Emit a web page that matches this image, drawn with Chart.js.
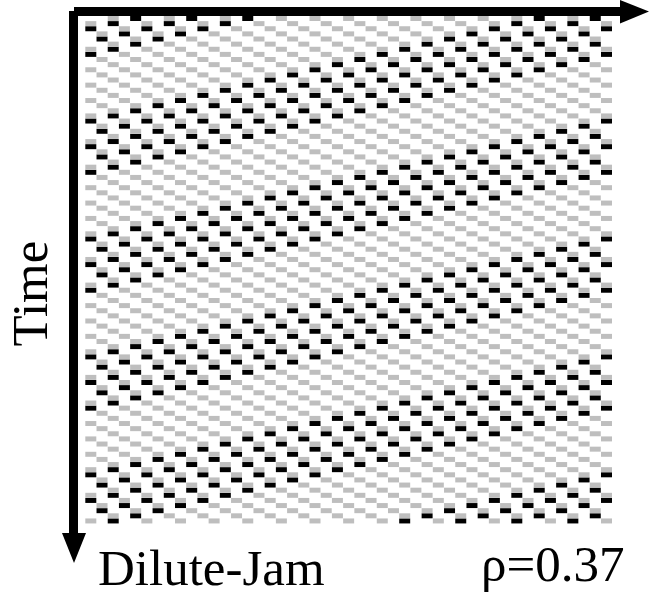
<!DOCTYPE html>
<html>
<head>
<meta charset="utf-8">
<style>html,body{margin:0;padding:0;background:#fff}canvas{display:block}#w{width:665px;height:598px}</style>
<script src="https://cdn.jsdelivr.net/npm/chart.js@4"></script>
</head>
<body>
<div id="w"><canvas id="c" width="665" height="598"></canvas></div>
<script>
const xLabel = "Dilute-Jam";
const yLabel = "Time";
const densityLabel = "ρ=0.37";
// Cell columns per time row (column 0 also shows at the ring's repeated column 46)
const repeatedColumn = 46;
const rowGray = [
[2,7,12,17,20,23,26,29,32,35,38,43],
[0,5,10,15,18,21,24,27,30,33,36,41],
[3,8,13,16,19,22,25,28,31,34,39,44],
[1,6,11,14,17,20,23,26,29,32,37,42],
[4,9,12,15,18,21,24,27,30,35,40,45],
[2,7,10,13,16,19,22,25,28,33,38,43],
[0,5,8,11,14,17,20,23,26,31,36,41],
[3,6,9,12,15,18,21,24,29,34,39,44],
[1,4,7,10,13,16,19,22,27,32,37,42],
[2,5,8,11,14,17,20,25,30,35,40,45],
[0,3,6,9,12,15,18,23,28,33,38,43],
[1,4,7,10,13,16,21,26,31,36,41,44],
[2,5,8,11,14,19,24,29,34,39,42,45],
[0,3,6,9,12,17,22,27,32,37,40,43],
[1,4,7,10,15,20,25,30,35,38,41,44],
[2,5,8,13,18,23,28,33,36,39,42,45],
[0,3,6,11,16,21,26,31,34,37,40,43],
[14,19,24,29,32,35,38,41,44,1,4,9],
[12,17,22,27,30,33,36,39,42,45,2,7],
[15,20,25,28,31,34,37,40,43,0,5,10],
[13,18,23,26,29,32,35,38,41,44,3,8],
[16,21,24,27,30,33,36,39,42,1,6,11],
[14,19,22,25,28,31,34,37,40,45,4,9],
[12,17,20,23,26,29,32,35,38,43,2,7],
[15,18,21,24,27,30,33,36,41,0,5,10],
[13,16,19,22,25,28,31,34,39,44,3,8],
[14,17,20,23,26,29,32,37,42,1,6,11],
[12,15,18,21,24,27,30,35,40,45,4,9],
[13,16,19,22,25,28,33,38,43,2,7,10],
[14,17,20,23,26,31,36,41,0,5,8,11],
[12,15,18,21,24,29,34,39,44,3,6,9],
[13,16,19,22,27,32,37,42,1,4,7,10],
[14,17,20,25,30,35,40,45,2,5,8,11],
[12,15,18,23,28,33,38,43,0,3,6,9],
[26,31,36,41,44,1,4,7,10,13,16,21],
[24,29,34,39,42,45,2,5,8,11,14,19],
[27,32,37,40,43,0,3,6,9,12,17,22],
[25,30,35,38,41,44,1,4,7,10,15,20],
[28,33,36,39,42,45,2,5,8,13,18,23],
[26,31,34,37,40,43,0,3,6,11,16,21],
[24,29,32,35,38,41,44,1,4,9,14,19],
[27,30,33,36,39,42,45,2,7,12,17,22],
[25,28,31,34,37,40,43,0,5,10,15,20],
[26,29,32,35,38,41,44,3,8,13,18,23],
[24,27,30,33,36,39,42,1,6,11,16,21],
[25,28,31,34,37,40,45,4,9,14,19,22],
[26,29,32,35,38,43,2,7,12,17,20,23],
[24,27,30,33,36,41,0,5,10,15,18,21],
[25,28,31,34,39,44,3,8,13,16,19,22],
[26,29,32,37,42,1,6,11,14,17,20,23],
[24,27,30,35,40,45,4,9,12,15,18,21],
[38,43,2,7,10,13,16,19,22,25,28,33],
[36,41,0,5,8,11,14,17,20,23,26,31],
[39,44,3,6,9,12,15,18,21,24,29,34],
[37,42,1,4,7,10,13,16,19,22,27,32],
[40,45,2,5,8,11,14,17,20,25,30,35],
[38,43,0,3,6,9,12,15,18,23,28,33],
[36,41,44,1,4,7,10,13,16,21,26,31],
[39,42,45,2,5,8,11,14,19,24,29,34],
[37,40,43,0,3,6,9,12,17,22,27,32],
[38,41,44,1,4,7,10,15,20,25,30,35],
[36,39,42,45,2,5,8,13,18,23,28,33],
[37,40,43,0,3,6,11,16,21,26,31,34],
[38,41,44,1,4,9,14,19,24,29,32,35],
[36,39,42,45,2,7,12,17,22,27,30,33],
[37,40,43,0,5,10,15,20,25,28,31,34],
[38,41,44,3,8,13,18,23,26,29,32,35],
[36,39,42,1,6,11,16,21,24,27,30,33],
[4,9,14,19,22,25,28,31,34,37,40,45],
[2,7,12,17,20,23,26,29,32,35,38,43],
[0,5,10,15,18,21,24,27,30,33,36,41],
[3,8,13,16,19,22,25,28,31,34,39,44],
[1,6,11,14,17,20,23,26,29,32,37,42],
[4,9,12,15,18,21,24,27,30,35,40,45],
[2,7,10,13,16,19,22,25,28,33,38,43],
[0,5,8,11,14,17,20,23,26,31,36,41],
[3,6,9,12,15,18,21,24,29,34,39,44],
[1,4,7,10,13,16,19,22,27,32,37,42],
[2,5,8,11,14,17,20,25,30,35,40,45],
[0,3,6,9,12,15,18,23,28,33,38,43],
[1,4,7,10,13,16,21,26,31,36,41,44],
[2,5,8,11,14,19,24,29,34,39,42,45],
[0,3,6,9,12,17,22,27,32,37,40,43],
[1,4,7,10,15,20,25,30,35,38,41,44],
[2,5,8,13,18,23,28,33,36,39,42,45],
[0,3,6,11,16,21,26,31,34,37,40,43],
[14,19,24,29,32,35,38,41,44,1,4,9],
[12,17,22,27,30,33,36,39,42,45,2,7],
[15,20,25,28,31,34,37,40,43,0,5,10],
[13,18,23,26,29,32,35,38,41,44,3,8],
[16,21,24,27,30,33,36,39,42,1,6,11],
[14,19,22,25,28,31,34,37,40,45,4,9],
[12,17,20,23,26,29,32,35,38,43,2,7],
[15,18,21,24,27,30,33,36,41,0,5,10],
[13,16,19,22,25,28,31,34,39,44,3,8],
[14,17,20,23,26,29,32,37,42,1,6,11],
[12,15,18,21,24,27,30,35,40,45,4,9],
[13,16,19,22,25,28,33,38,43,2,7,10],
[14,17,20,23,26,31,36,41,0,5,8,11]
];
const rowBlack = [
[4,9,14,40,45],
[2,7,12,38,43],
[0,5,10,36,41],
[3,8,34,39,44],
[1,6,32,37,42],
[4,30,35,40,45],
[2,28,33,38,43],
[0,26,31,36,41],
[24,29,34,39,44],
[22,27,32,37,42],
[20,25,30,35,40],
[18,23,28,33,38],
[16,21,26,31,36],
[14,19,24,29,34],
[12,17,22,27,32],
[10,15,20,25,30],
[8,13,18,23,28],
[16,21,26,6,11],
[14,19,24,4,9],
[12,17,22,2,7],
[15,20,0,5,10],
[13,18,44,3,8],
[16,42,1,6,11],
[14,40,45,4,9],
[12,38,43,2,7],
[36,41,0,5,10],
[34,39,44,3,8],
[32,37,42,1,6],
[30,35,40,45,4],
[28,33,38,43,2],
[26,31,36,41,0],
[24,29,34,39,44],
[22,27,32,37,42],
[20,25,30,35,40],
[28,33,38,18,23],
[26,31,36,16,21],
[24,29,34,14,19],
[27,32,12,17,22],
[25,30,10,15,20],
[28,8,13,18,23],
[26,6,11,16,21],
[24,4,9,14,19],
[2,7,12,17,22],
[0,5,10,15,20],
[44,3,8,13,18],
[42,1,6,11,16],
[40,45,4,9,14],
[38,43,2,7,12],
[36,41,0,5,10],
[34,39,44,3,8],
[32,37,42,1,6],
[40,45,4,30,35],
[38,43,2,28,33],
[36,41,0,26,31],
[39,44,24,29,34],
[37,42,22,27,32],
[40,20,25,30,35],
[38,18,23,28,33],
[36,16,21,26,31],
[14,19,24,29,34],
[12,17,22,27,32],
[10,15,20,25,30],
[8,13,18,23,28],
[6,11,16,21,26],
[4,9,14,19,24],
[2,7,12,17,22],
[0,5,10,15,20],
[44,3,8,13,18],
[6,11,16,42,1],
[4,9,14,40,45],
[2,7,12,38,43],
[0,5,10,36,41],
[3,8,34,39,44],
[1,6,32,37,42],
[4,30,35,40,45],
[2,28,33,38,43],
[0,26,31,36,41],
[24,29,34,39,44],
[22,27,32,37,42],
[20,25,30,35,40],
[18,23,28,33,38],
[16,21,26,31,36],
[14,19,24,29,34],
[12,17,22,27,32],
[10,15,20,25,30],
[8,13,18,23,28],
[16,21,26,6,11],
[14,19,24,4,9],
[12,17,22,2,7],
[15,20,0,5,10],
[13,18,44,3,8],
[16,42,1,6,11],
[14,40,45,4,9],
[12,38,43,2,7],
[36,41,0,5,10],
[34,39,44,3,8],
[32,37,42,1,6],
[30,35,40,45,4],
[28,33,38,43,2]
];

function cells(rows){
  const pts = [];
  rows.forEach((cols, t) => cols.forEach(col => {
    pts.push({x: col, y: t});
    if (col === 0) pts.push({x: repeatedColumn, y: t});
  }));
  return pts;
}

const arrows = {
  id: 'arrows',
  afterDraw(chart){
    const c = chart.ctx;
    c.save();
    c.fillStyle = '#000';
    c.fillRect(74, 7, 547, 9);
    c.fillRect(69, 11, 9, 523);
    c.beginPath(); c.moveTo(620, 0); c.lineTo(649, 11.5); c.lineTo(620, 23.5); c.closePath(); c.fill();
    c.beginPath(); c.moveTo(62, 533); c.lineTo(86, 533); c.lineTo(74, 563); c.closePath(); c.fill();
    c.font = '51px "Liberation Serif"';
    c.textBaseline = 'alphabetic';
    c.textAlign = 'left';
    c.fillText(xLabel, 98, 585);
    c.fillText(densityLabel, 481, 581);
    c.translate(47, 293.5);
    c.rotate(-Math.PI / 2);
    c.textAlign = 'center';
    c.fillText(yLabel, 0, 0);
    c.restore();
  }
};

new Chart(document.getElementById('c'), {
  type: 'scatter',
  data: {
    datasets: [
      {label: 'moving', data: cells(rowGray), pointStyle: 'line', pointRadius: 5.5, pointBorderWidth: 5,
       pointBorderColor: '#bebebe', pointBackgroundColor: '#bebebe', showLine: false},
      {label: 'stopped', data: cells(rowBlack), pointStyle: 'line', pointRadius: 5.5, pointBorderWidth: 5,
       pointBorderColor: '#000', pointBackgroundColor: '#000', showLine: false}
    ]
  },
  options: {
    responsive: false,
    animation: false,
    layout: {padding: 0, autoPadding: false},
    plugins: {legend: {display: false}, tooltip: {enabled: false}},
    scales: {
      x: {type: 'linear', display: false, min: -8.1, max: 51.22},
      y: {type: 'linear', display: false, reverse: true, min: -3.608, max: 113.03}
    }
  },
  plugins: [arrows]
});
</script>
</body>
</html>
